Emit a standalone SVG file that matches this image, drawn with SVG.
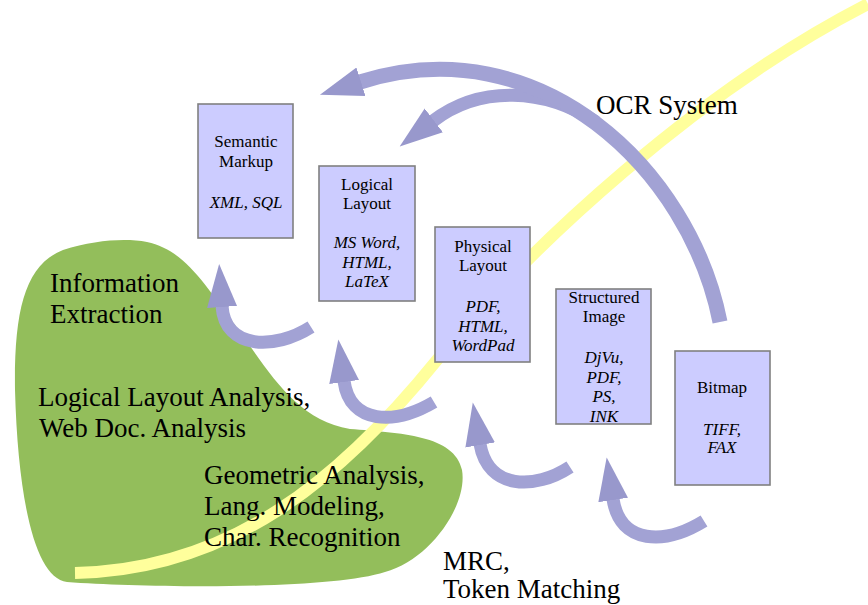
<svg xmlns="http://www.w3.org/2000/svg" width="868" height="605" viewBox="0 0 868 605">
<style>
.box{fill:#ccccff;stroke:#808080;stroke-width:1.6}
.bt{font-family:'Liberation Serif','DejaVu Serif',serif;font-size:17px;fill:#000;text-anchor:middle}
.it{font-style:italic}
.big{font-family:'Liberation Serif','DejaVu Serif',serif;font-size:27px;fill:#000}
.shaft{fill:none;stroke:#a2a2d4;stroke-width:13;stroke-linecap:butt}
.wide{stroke-width:15}
</style>
<defs>
<marker id="ah" markerUnits="userSpaceOnUse" viewBox="0 0 44 32" markerWidth="44" markerHeight="32" refX="1" refY="16" orient="auto">
<path d="M0,1 L43,16 L0,31 Z" fill="#9898cc"/>
</marker>
</defs>
<rect width="868" height="605" fill="#ffffff"/>
<g id="background">
<path d="M147,242 C185,250 205,285 235,325 C268,370 295,420 350,429 C400,433 455,435 462,470 C468,505 430,560 385,572 C330,590 150,588 67,582 C35,578 18,500 15,390 C14,310 25,265 63,250 C95,240 125,238 147,242 Z" fill="#93be5b"/>
<path d="M75,573 C230,570 340,480 437,360 C530,245 700,90 868,4" fill="none" stroke="#ffff9c" stroke-width="12"/>
</g>
<g id="semantic-markup" font-family="Liberation Serif, DejaVu Serif, serif">
<rect class="box" x="198" y="104" width="95" height="134"/>
<text class="bt" x="246" y="147">Semantic</text>
<text class="bt" x="246" y="167">Markup</text>
<text class="bt it" x="246" y="208">XML, SQL</text>
</g>
<g id="logical-layout" font-family="Liberation Serif, DejaVu Serif, serif">
<rect class="box" x="319" y="166" width="96" height="135"/>
<text class="bt" x="367" y="190">Logical</text>
<text class="bt" x="367" y="209">Layout</text>
<text class="bt it" x="367" y="248">MS Word,</text>
<text class="bt it" x="367" y="268">HTML,</text>
<text class="bt it" x="367" y="287">LaTeX</text>
</g>
<g id="physical-layout" font-family="Liberation Serif, DejaVu Serif, serif">
<rect class="box" x="435" y="227" width="95" height="135"/>
<text class="bt" x="483" y="252">Physical</text>
<text class="bt" x="483" y="271">Layout</text>
<text class="bt it" x="483" y="312">PDF,</text>
<text class="bt it" x="483" y="332">HTML,</text>
<text class="bt it" x="483" y="351">WordPad</text>
</g>
<g id="structured-image" font-family="Liberation Serif, DejaVu Serif, serif">
<rect class="box" x="556" y="289" width="95" height="135"/>
<text class="bt" x="604" y="303">Structured</text>
<text class="bt" x="604" y="322">Image</text>
<text class="bt it" x="604" y="363">DjVu,</text>
<text class="bt it" x="604" y="383">PDF,</text>
<text class="bt it" x="604" y="402">PS,</text>
<text class="bt it" x="604" y="422">INK</text>
</g>
<g id="bitmap" font-family="Liberation Serif, DejaVu Serif, serif">
<rect class="box" x="675" y="351" width="95" height="134"/>
<text class="bt" x="722" y="393">Bitmap</text>
<text class="bt it" x="722" y="435">TIFF,</text>
<text class="bt it" x="722" y="453">FAX</text>
</g>
<g id="connectors">
<path class="shaft" d="M596,122 C545,88 480,85 433,121" marker-end="url(#ah)"/>
<path class="shaft wide" d="M720,322 C690,170 540,25 360,82" marker-end="url(#ah)"/>
<path class="shaft" d="M311,327 C275,350 225,350 222,306" marker-end="url(#ah)"/>
<path class="shaft" d="M434,402 C395,425 350,425 344,381" marker-end="url(#ah)"/>
<path class="shaft" d="M570,467 C535,490 488,490 480,444" marker-end="url(#ah)"/>
<path class="shaft" d="M704,521 C665,545 620,545 613,499" marker-end="url(#ah)"/>
</g>
<g id="labels" font-family="Liberation Serif, DejaVu Serif, serif">
<text class="big" x="596" y="114">OCR System</text>
<text class="big" x="50" y="292">Information</text>
<text class="big" x="50" y="323">Extraction</text>
<text class="big" x="38" y="406">Logical Layout Analysis,</text>
<text class="big" x="39" y="437">Web Doc. Analysis</text>
<text class="big" x="204" y="484">Geometric Analysis,</text>
<text class="big" x="204" y="515">Lang. Modeling,</text>
<text class="big" x="204" y="546">Char. Recognition</text>
<text class="big" x="443" y="570">MRC,</text>
<text class="big" x="443" y="598">Token Matching</text>
</g>
</svg>
